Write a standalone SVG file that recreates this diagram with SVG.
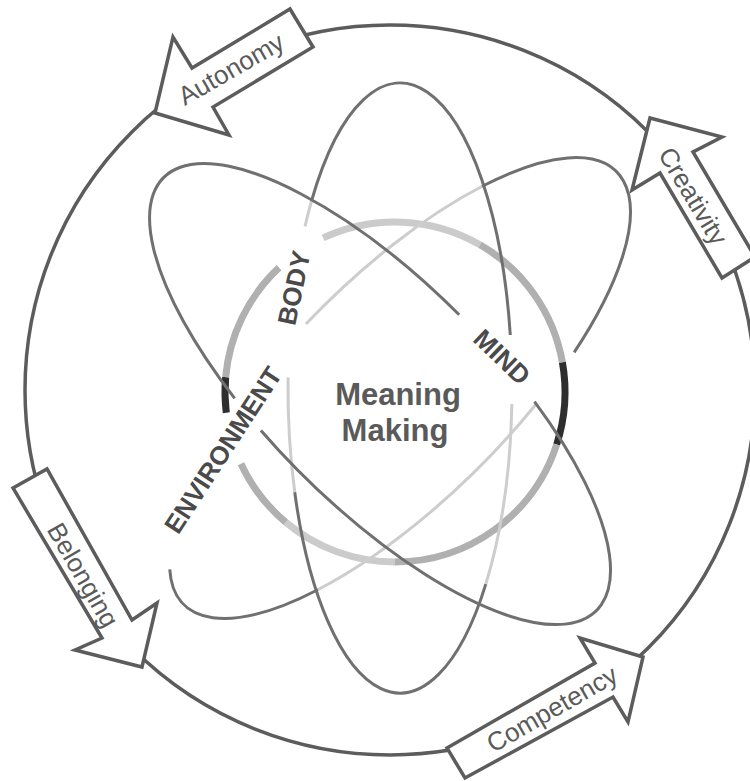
<svg xmlns="http://www.w3.org/2000/svg" width="750" height="781" viewBox="0 0 750 781">
<style>
.outer{fill:none;stroke:#5c5c5c;stroke-width:3.5}
.arrow{fill:#fff;stroke:#5c5c5c;stroke-width:3.5;stroke-linejoin:miter}
.alabel{font-family:"Liberation Sans",Arial,sans-serif;font-size:26px;fill:#5a5a5a;text-anchor:middle}
.ring{fill:none;stroke-width:7}
.rl{stroke:#cbcbcb}
.rm{stroke:#b0b0b0}
.rd{stroke:#2e2e2e}
.orb{fill:none;stroke-width:3}
.dk{stroke:#707070}
.lt{stroke:#cdcdcd}
.lbl{font-family:"Liberation Sans",Arial,sans-serif;font-weight:bold;font-size:26px;fill:#4a4a4a;text-anchor:middle}
.center{font-family:"Liberation Sans",Arial,sans-serif;font-weight:bold;font-size:31px;fill:#5a5a5a;text-anchor:middle}
</style>
<rect width="750" height="781" fill="#fff"/>

<g id="connectors">
  <circle cx="390" cy="390" r="365" class="outer"/>
</g>

<g id="ring">
  <path class="ring rd" d="M226.27,412.72 A170,170 0 0 1 225.65,377.18"/>
  <path class="ring rm" d="M225.65,377.18 A170,170 0 0 1 279.06,267.67"/>
  <path class="ring rl" d="M323.15,237.93 A170,170 0 0 1 480,244.78"/>
  <path class="ring rm" d="M480,244.78 A170,170 0 0 1 562.42,362.48"/>
  <path class="ring rd" d="M562.42,362.48 A170,170 0 0 1 556.68,444.53"/>
  <path class="ring rm" d="M556.68,444.53 A170,170 0 0 1 395,562"/>
  <path class="ring rl" d="M395,562 A170,170 0 0 1 285.73,522.23"/>
  <path class="ring rm" d="M285.73,522.23 A170,170 0 0 1 240.93,463.85"/>
</g>

<g id="orbits">
  <path class="orb lt" d="M305.02,226.37 A112,305 0 0 1 311.74,200.22"/>
  <path class="orb lt" d="M511.85,403.96 A112,305 0 0 1 485.8,584.1"/>
  <path class="orb lt" d="M294.75,492.3 A112,305 0 0 1 288.07,377.36"/>
  <path class="orb lt" d="M305.9,324.08 A306,112 -45 0 1 482.18,186.28"/>
  <path class="orb lt" d="M535.77,404.49 A306,112 -45 0 1 317.82,589.72"/>
  <path class="orb dk" d="M311.74,200.22 A112,305 0 0 1 510.3,335"/>
  <path class="orb dk" d="M485.8,584.1 A112,305 0 0 1 294.75,492.3"/>
  <path class="orb dk" d="M234.68,398.44 A306,112 45 0 1 459.2,314.8"/>
  <path class="orb dk" d="M534.49,401.63 A306,112 45 0 1 260.96,430.46"/>
  <path class="orb dk" d="M482.18,186.28 A306,112 -45 0 1 574.17,352.37"/>
  <path class="orb dk" d="M317.82,589.72 A306,112 -45 0 1 169.75,569.31"/>
</g>

<g id="autonomy">
  <polygon class="arrow" points="155,113 173,37 192,68 290,9 313,47 213,107 229,135"/>
  <text class="alabel" transform="translate(231,69) rotate(-30)" y="9">Autonomy</text>
</g>
<g id="creativity">
  <polygon class="arrow" points="650,118 722,137 693,152 755,257 722,278 660,173 632,190"/>
  <text class="alabel" transform="translate(693,196) rotate(59)" y="9">Creativity</text>
</g>
<g id="belonging">
  <polygon class="arrow" points="13,488 47,469 132,620 157,603 142,667 75,650 102,638"/>
  <text class="alabel" transform="translate(83,575) rotate(60)" y="9">Belonging</text>
</g>
<g id="competency">
  <polygon class="arrow" points="447,748 595,663 580,638 643,657 628,722 613,697 465,778"/>
  <text class="alabel" transform="translate(552,709) rotate(-30)" y="9">Competency</text>
</g>

<g id="body">
  <text class="lbl" transform="translate(294,288) rotate(-78)" y="9">BODY</text>
</g>
<g id="mind">
  <text class="lbl" transform="translate(502,357) rotate(44)" y="9">MIND</text>
</g>
<g id="environment">
  <text class="lbl" transform="translate(223,450) rotate(-57)" y="9">ENVIRONMENT</text>
</g>
<g id="meaning-making">
  <text class="center" x="398" y="405">Meaning</text>
  <text class="center" x="395" y="441">Making</text>
</g>
</svg>
